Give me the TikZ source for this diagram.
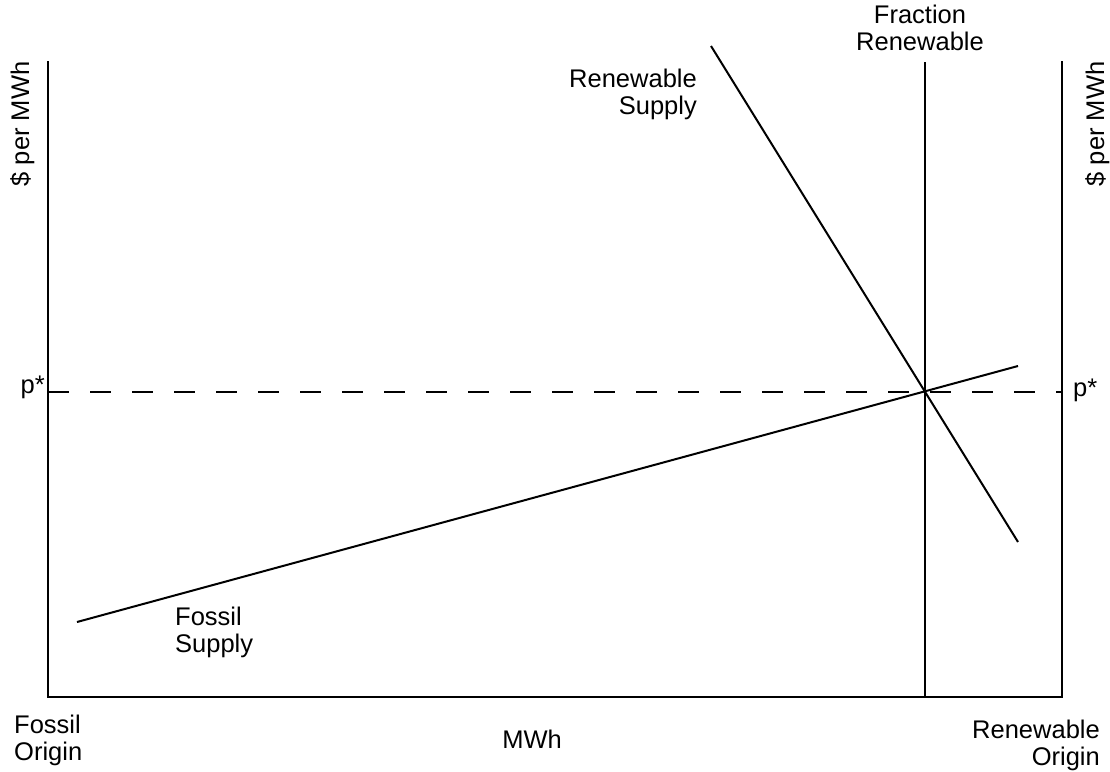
\documentclass[tikz,border=0pt]{standalone}
\usepackage{fontspec}
\setmainfont{Liberation Sans}
\begin{document}
\begin{tikzpicture}[x=1pt,y=-1pt,
  axisline/.style={line width=2pt,line cap=rect},
  curve/.style={line width=2pt},
  pricedash/.style={line width=2pt,dash pattern=on 21pt off 21pt},
  lbl/.style={inner sep=0pt,font=\fontsize{25.5}{27}\selectfont}]
\path[use as bounding box] (0,0) rectangle (1110,771);
% axis corners
\coordinate (tl) at (48,62);
\coordinate (bl) at (48,697);
\coordinate (br) at (1062,697);
\coordinate (tr) at (1062,62);
\coordinate (ft) at (925,62);
\coordinate (fb) at (925,697);
\coordinate (pl) at (48,392);
\coordinate (pr) at (1062,392);
\coordinate (fs1) at (77,622);
\coordinate (fs2) at (1018,366);
\coordinate (rs1) at (711,46);
\coordinate (rs2) at (1018,542);
\draw[axisline] (tl) -- (bl) -- (br) -- (tr);
\draw[curve] (ft) -- (fb);
\draw[pricedash] (pl) -- (pr);
\draw[curve] (fs1) -- (fs2);
\draw[curve] (rs1) -- (rs2);
% labels
\node[lbl,rotate=90,anchor=base] (yl) at (29,124) {\$ per MWh};
\node[lbl,rotate=90,anchor=base] (yr) at (1104,124) {\$ per MWh};
\node[lbl,anchor=base east] (pls) at (45,393) {p*};
\node[lbl,anchor=base west] (prs) at (1073,396) {p*};
\node[lbl,align=center,anchor=base] (frac) at (920,50) {Fraction\\Renewable};
\node[lbl,align=right,anchor=base east] (rsup) at (697,114) {Renewable\\Supply};
\node[lbl,align=left,anchor=base west] (fsup) at (175,652) {Fossil\\Supply};
\node[lbl,align=left,anchor=base west] (fo) at (14,760) {Fossil\\Origin};
\node[lbl,align=right,anchor=base east] (ro) at (1100,765) {Renewable\\Origin};
\node[lbl,anchor=base] (mwh) at (532,748) {MWh};
\end{tikzpicture}
\end{document}
